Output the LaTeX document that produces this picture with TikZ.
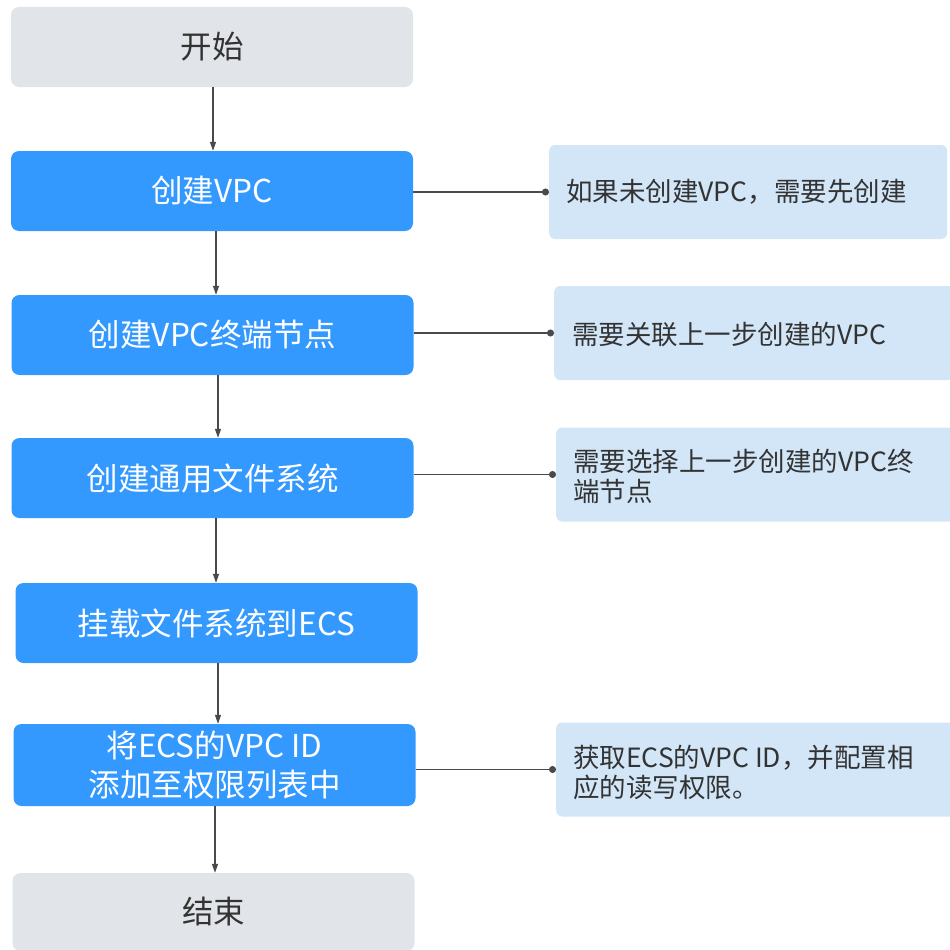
\documentclass[tikz,border=0pt]{standalone}
\usepackage{fontspec}
\setmainfont{Noto Sans CJK SC}
\usetikzlibrary{arrows.meta}
\definecolor{grayfill}{HTML}{E1E4E8}
\definecolor{bluefill}{HTML}{3399FF}
\definecolor{notefill}{HTML}{D2E6F8}
\definecolor{txtgray}{HTML}{333333}
\definecolor{linegray}{HTML}{4A4A4A}
\tikzset{
  termbox/.style={fill=grayfill, rounded corners=8pt, minimum width=402pt, minimum height=80pt, inner sep=0pt, text=txtgray, font=\fontsize{31.5}{39}\selectfont, align=center},
  stepbox/.style={fill=bluefill, rounded corners=8pt, minimum width=402pt, minimum height=80pt, inner sep=0pt, text=white, font=\fontsize{31.5}{39}\selectfont, align=center},
  notebox/.style={fill=notefill, rounded corners=6pt, minimum height=94pt, inner sep=0pt},
  notetext/.style={anchor=west, inner sep=0pt, text=txtgray, font=\fontsize{26.5}{30}\selectfont, align=left},
  flow/.style={draw=linegray, line width=1.3pt, -{Triangle[length=9pt,width=6pt]}},
  link/.style={draw=linegray, line width=1.3pt, -{Circle[length=7pt]}}
}
\begin{document}
\begin{tikzpicture}[x=1pt,y=-1pt]
\useasboundingbox (0,0) rectangle (950,950);
\node[termbox] (start) at (212,47) {开始};
\node[stepbox] (s1) at (212,191) {创建VPC};
\node[stepbox] (s2) at (212.5,335) {创建VPC终端节点};
\node[stepbox] (s3) at (212.5,478) {创建通用文件系统};
\node[stepbox] (s4) at (216.5,623) {挂载文件系统到ECS};
\node[stepbox, minimum height=82pt] (s5) at (214.5,765) {将ECS的VPC ID\\添加至权限列表中};
\node[termbox, minimum height=78pt] (end) at (213.5,912) {结束};

\node[notebox, minimum width=398pt, anchor=west] (n1) at (549,192) {};
\node[notebox, minimum width=400pt, anchor=west] (n2) at (554,333) {};
\node[notebox, minimum width=400pt, anchor=west] (n3) at (556,474.5) {};
\node[notebox, minimum width=400pt, anchor=west] (n4) at (556,769.5) {};
\node[notetext] (t1) at (566,192) {如果未创建VPC，需要先创建};
\node[notetext] (t2) at (572,334) {需要关联上一步创建的VPC};
\node[notetext] (t3) at (573,476) {需要选择上一步创建的VPC终\\端节点};
\node[notetext] (t4) at (573,772) {获取ECS的VPC ID，并配置相\\应的读写权限。};

\draw[flow] (start.south -| 213,0) -- (s1.north -| 213,0);
\draw[flow] (s1.south -| 216,0) -- (s2.north -| 216,0);
\draw[flow] (s2.south -| 218,0) -- (s3.north -| 218,0);
\draw[flow] (s3.south -| 216,0) -- (s4.north -| 216,0);
\draw[flow] (s4.south -| 218,0) -- (s5.north -| 218,0);
\draw[flow] (s5.south -| 215,0) -- (end.north -| 215,0);

\draw[link] (s1.east |- n1.west) -- (n1.west);
\draw[link] (s2.east |- n2.west) -- (n2.west);
\draw[link] (s3.east |- n3.west) -- (n3.west);
\draw[link] (s5.east |- n4.west) -- (n4.west);
\end{tikzpicture}
\end{document}
